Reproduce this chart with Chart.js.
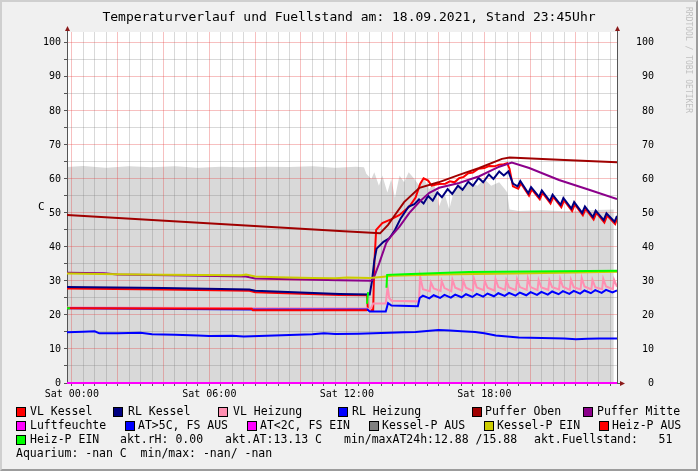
<!DOCTYPE html>
<html>
<head>
<meta charset="utf-8">
<script src="https://cdn.jsdelivr.net/npm/chart.js@4.4.0/dist/chart.umd.min.js"></script>
<style>
    body { margin: 0; background: #f0f0f0; }
    #frame {
        position: relative; width: 698px; height: 471px; overflow: hidden;
        background: #f0f0f0; color: #000;
        font-family: 'DejaVu Sans Mono', monospace;
    }
    #frame::after {
        content: ''; position: absolute; left: 0; top: 0; right: 0; bottom: 0;
        box-sizing: border-box; pointer-events: none;
        border-top: 2px solid #cfcfcf; border-left: 2px solid #cfcfcf;
        border-right: 2px solid #9c9c9c; border-bottom: 2px solid #9c9c9c;
    }
    #plotBg { position: absolute; left: 67px; top: 32px; width: 550px; height: 351px; background: #fff; }
    canvas { position: absolute; left: 0; top: 0; }
    .title { position: absolute; left: 0; width: 698px; top: 9px; text-align: center; font-size: 13px; line-height: 16px; white-space: pre; }
    .wm { position: absolute; left: 684px; top: 7px; font-size: 8px; line-height: 9px; color: #c0c0c0; writing-mode: vertical-rl; white-space: pre; }
    .ylab { position: absolute; left: 38px; top: 200px; font-size: 11px; line-height: 14px; }
    .t { position: absolute; font-size: 11.5px; line-height: 14px; white-space: pre; }
    .sq { position: absolute; width: 10px; height: 10px; box-sizing: border-box; border: 1px solid #000; }
</style>
</head>
<body>
<div id="frame">
    <div id="plotBg"></div>
    <canvas id="chart" width="698" height="471"></canvas>
    <div class="title">Temperaturverlauf und Fuellstand am: 18.09.2021, Stand 23:45Uhr</div>
    <div class="wm">RRDTOOL / TOBI OETIKER</div>
    <div class="ylab">C</div>

    <!-- legend row 1 -->
    <div class="sq" style="left:16px;top:407px;background:#ff0000"></div><div class="t" style="left:30px;top:404px">VL Kessel</div>
    <div class="sq" style="left:113px;top:407px;background:#000080"></div><div class="t" style="left:128px;top:404px">RL Kessel</div>
    <div class="sq" style="left:218px;top:407px;background:#ff8fb1"></div><div class="t" style="left:233px;top:404px">VL Heizung</div>
    <div class="sq" style="left:338px;top:407px;background:#0000ff"></div><div class="t" style="left:352px;top:404px">RL Heizung</div>
    <div class="sq" style="left:472px;top:407px;background:#a00000"></div><div class="t" style="left:485px;top:404px">Puffer Oben</div>
    <div class="sq" style="left:583px;top:407px;background:#8b008b"></div><div class="t" style="left:597px;top:404px">Puffer Mitte</div>
    <!-- legend row 2 -->
    <div class="sq" style="left:16px;top:421px;background:#ff00ff"></div><div class="t" style="left:30px;top:418px">Luftfeuchte</div>
    <div class="sq" style="left:125px;top:421px;background:#0000ff"></div><div class="t" style="left:138px;top:418px">AT&gt;5C, FS AUS</div>
    <div class="sq" style="left:247px;top:421px;background:#ff00ff"></div><div class="t" style="left:260px;top:418px">AT&lt;2C, FS EIN</div>
    <div class="sq" style="left:369px;top:421px;background:#808080"></div><div class="t" style="left:382px;top:418px">Kessel-P AUS</div>
    <div class="sq" style="left:484px;top:421px;background:#cccc00"></div><div class="t" style="left:497px;top:418px">Kessel-P EIN</div>
    <div class="sq" style="left:599px;top:421px;background:#ff0000"></div><div class="t" style="left:612px;top:418px">Heiz-P AUS</div>
    <!-- legend row 3 -->
    <div class="sq" style="left:16px;top:435px;background:#00ff00"></div><div class="t" style="left:30px;top:432px">Heiz-P EIN</div>
    <div class="t" style="left:120px;top:432px">akt.rH: 0.00</div>
    <div class="t" style="left:225px;top:432px">akt.AT:13.13 C</div>
    <div class="t" style="left:344px;top:432px">min/maxAT24h:12.88 /15.88</div>
    <div class="t" style="left:534px;top:432px">akt.Fuellstand:   51</div>
    <!-- legend row 4 -->
    <div class="t" style="left:16px;top:446px">Aquarium: -nan C  min/max: -nan/ -nan</div>
</div>

<script>
// axis ticks (hours since Sat 00:00)
const xTickHours = [0, 6, 12, 18];
const xTickLabels = ['Sat 00:00', 'Sat 06:00', 'Sat 12:00', 'Sat 18:00'];
const yTickValues = [0, 10, 20, 30, 40, 50, 60, 70, 80, 90, 100];

// VL Kessel
const vlKesselHours = [-0.21, 4.0, 7.75, 8.0, 11.68, 12.88, 12.92, 13.15, 13.2, 13.28, 13.55, 13.95, 14.3, 14.73, 15.0, 15.2, 15.35, 15.55, 15.7, 16.0, 16.3, 16.5, 16.7, 16.9, 17.1, 17.3, 17.5, 17.75, 18.0, 18.2, 18.45, 18.65, 18.85, 19.0, 19.1, 19.25, 19.48, 19.6, 19.95, 20.07, 20.42, 20.54, 20.89, 21.01, 21.36, 21.48, 21.83, 21.95, 22.3, 22.42, 22.77, 22.89, 23.24, 23.36, 23.71, 23.79];
const vlKesselValues = [27.8, 27.5, 27.1, 26.7, 25.9, 25.8, 21.5, 21.5, 35.0, 45.0, 47.0, 48.2, 49.4, 51.9, 54.5, 58.5, 60.2, 59.5, 58.0, 58.5, 58.6, 59.3, 59.0, 60.2, 60.6, 61.7, 61.9, 63.0, 63.2, 63.8, 63.7, 64.2, 64.3, 64.6, 63.0, 57.8, 57.1, 58.7, 55.1, 56.9, 54.0, 55.9, 52.8, 54.7, 51.7, 53.7, 50.6, 52.5, 49.3, 51.2, 48.1, 50.0, 47.2, 49.2, 46.7, 48.3];

// RL Kessel
const rlKesselHours = [-0.21, 4.0, 7.75, 8.0, 11.68, 13.0, 13.1, 13.2, 13.3, 13.6, 13.85, 14.1, 14.35, 14.7, 14.95, 15.15, 15.35, 15.55, 15.75, 15.95, 16.15, 16.4, 16.6, 16.85, 17.05, 17.3, 17.5, 17.75, 17.95, 18.2, 18.4, 18.65, 18.85, 19.05, 19.25, 19.45, 19.57, 19.92, 20.04, 20.39, 20.51, 20.86, 20.98, 21.33, 21.45, 21.8, 21.92, 22.27, 22.39, 22.74, 22.86, 23.21, 23.33, 23.68, 23.79];
const rlKesselValues = [28.2, 27.9, 27.5, 27.1, 26.2, 26.0, 30.0, 36.0, 39.5, 41.5, 42.5, 45.0, 48.4, 51.9, 52.6, 54.0, 52.8, 55.0, 53.6, 56.0, 54.6, 57.0, 55.6, 58.0, 56.8, 59.2, 58.0, 60.3, 59.0, 61.3, 60.0, 62.2, 61.0, 62.2, 58.6, 57.8, 59.4, 55.8, 57.6, 54.7, 56.6, 53.5, 55.4, 52.4, 54.4, 51.3, 53.2, 50.0, 51.9, 48.8, 50.7, 47.9, 49.9, 47.4, 49.1];

// VL Heizung
const vlHeizHours = [-0.21, 12.9, 13.0, 13.05, 13.15, 13.7, 13.78, 13.85, 13.95, 15.1, 15.15, 15.2, 15.32, 15.62, 15.67, 15.79, 16.09, 16.14, 16.26, 16.56, 16.61, 16.73, 17.03, 17.08, 17.2, 17.5, 17.55, 17.67, 17.97, 18.02, 18.14, 18.44, 18.49, 18.61, 18.91, 18.96, 19.08, 19.38, 19.43, 19.55, 19.85, 19.9, 20.02, 20.32, 20.37, 20.49, 20.79, 20.84, 20.96, 21.26, 21.31, 21.43, 21.73, 21.78, 21.9, 22.2, 22.25, 22.37, 22.67, 22.72, 22.84, 23.14, 23.19, 23.31, 23.61, 23.66, 23.79];
const vlHeizValues = [22.2, 21.9, 21.5, 22.0, 23.4, 23.4, 28.3, 25.0, 24.2, 24.0, 24.2, 31.3, 27.6, 27.0, 29.6, 27.8, 27.1, 30.0, 27.9, 27.0, 30.4, 28.0, 27.2, 30.1, 28.0, 27.1, 30.7, 28.1, 27.3, 30.0, 28.0, 27.2, 30.6, 28.2, 27.4, 30.2, 28.1, 27.3, 30.5, 28.2, 27.4, 30.8, 28.2, 27.3, 30.3, 28.1, 27.4, 30.2, 28.2, 27.5, 30.7, 28.3, 27.4, 30.4, 28.2, 27.5, 30.9, 28.4, 27.5, 30.3, 28.2, 27.6, 30.6, 28.4, 27.6, 30.4, 28.3];

// RL Heizung
const rlHeizHours = [-0.21, 7.9, 12.9, 13.0, 13.7, 13.8, 13.95, 15.1, 15.18, 15.32, 15.6, 15.79, 16.07, 16.26, 16.54, 16.73, 17.01, 17.2, 17.48, 17.67, 17.95, 18.14, 18.42, 18.61, 18.89, 19.08, 19.36, 19.55, 19.83, 20.02, 20.3, 20.49, 20.77, 20.96, 21.24, 21.43, 21.71, 21.9, 22.18, 22.37, 22.65, 22.84, 23.12, 23.31, 23.59, 23.79];
const rlHeizValues = [22.0, 21.6, 21.6, 21.0, 21.0, 23.5, 22.8, 22.6, 25.0, 25.7, 24.9, 25.8, 25.0, 25.9, 25.1, 26.0, 25.2, 26.1, 25.3, 26.2, 25.4, 26.3, 25.5, 26.4, 25.6, 26.5, 25.7, 26.6, 25.8, 26.7, 25.9, 26.8, 26.0, 26.9, 26.1, 27.0, 26.2, 27.1, 26.3, 27.2, 26.4, 27.3, 26.5, 27.4, 26.6, 27.2];

// Puffer Oben / Mitte
const pufferObenHours = [-0.21, 11.68, 13.45, 13.8, 14.1, 14.5, 15.17, 16.0, 16.9, 17.78, 18.77, 19.1, 21.5, 23.79];
const pufferObenValues = [49.4, 44.7, 44.0, 46.5, 49.4, 53.2, 57.4, 59.0, 61.2, 63.2, 65.9, 66.3, 65.6, 64.9];
const pufferMitteHours = [-0.21, 1.4, 2.0, 5.0, 7.6, 8.0, 9.5, 11.7, 13.05, 13.15, 13.42, 13.72, 13.86, 14.3, 14.73, 15.17, 15.6, 16.03, 16.9, 17.78, 18.65, 19.2, 19.96, 21.26, 22.57, 23.79];
const pufferMitteValues = [32.4, 32.3, 31.9, 31.6, 31.3, 30.7, 30.5, 30.2, 30.1, 30.4, 35.3, 41.2, 42.6, 46.0, 50.0, 53.3, 55.9, 57.4, 58.8, 60.8, 63.6, 64.8, 63.2, 59.7, 56.8, 54.1];

// Luftfeuchte
const luftHours = [-0.21, 23.79];
const luftValues = [0, 0];

// Aussentemperatur (AT>5C, FS AUS)
const atHours = [-0.21, 0.5, 1.0, 1.2, 2.0, 3.0, 3.5, 4.5, 5.5, 6.0, 7.0, 7.5, 8.5, 9.5, 10.5, 11.0, 11.5, 12.5, 13.5, 14.5, 15.0, 15.5, 16.0, 16.5, 17.0, 17.6, 18.0, 18.5, 19.5, 20.5, 21.5, 22.0, 22.5, 23.0, 23.79];
const atValues = [14.9, 15.1, 15.2, 14.6, 14.6, 14.8, 14.3, 14.2, 14.0, 13.8, 13.9, 13.7, 13.9, 14.1, 14.3, 14.6, 14.4, 14.5, 14.7, 14.9, 15.0, 15.3, 15.6, 15.4, 15.2, 15.0, 14.6, 14.0, 13.4, 13.2, 13.1, 12.9, 13.0, 13.1, 13.1];

// Kessel-P AUS (grey area)
const kesselAusHours = [-0.21, 0.5, 1.5, 2.5, 3.5, 4.5, 5.5, 6.5, 7.5, 8.5, 9.5, 10.5, 11.5, 12.4, 12.75, 12.85, 13.07, 13.2, 13.4, 13.55, 13.77, 13.94, 14.1, 14.3, 14.5, 14.7, 14.95, 15.16, 15.38, 15.6, 15.8, 16.03, 16.25, 16.47, 16.69, 16.9, 17.1, 17.34, 17.7, 18.0, 18.3, 18.65, 18.9, 19.0, 19.1, 19.5, 20.5, 21.5, 22.5, 23.65];
const kesselAusValues = [63.5, 63.8, 63.3, 63.7, 63.4, 63.7, 63.3, 63.6, 63.4, 63.6, 63.5, 63.7, 63.3, 63.6, 63.4, 61.5, 60.0, 62.0, 58.0, 61.0, 56.0, 60.0, 54.5, 61.0, 59.0, 62.0, 60.0, 58.0, 60.0, 57.0, 59.0, 52.0, 56.0, 51.0, 57.0, 59.0, 57.0, 59.0, 58.0, 60.0, 58.0, 59.0, 57.0, 56.0, 51.0, 50.6, 50.8, 50.5, 50.8, 51.0];

// Kessel-P EIN
const kesselEinHours = [-0.21, 2.0, 4.0, 7.4, 7.6, 8.0, 9.0, 10.5, 11.5, 12.0, 13.0, 13.5, 14.0, 16.0, 20.0, 23.79];
const kesselEinValues = [32.2, 32.0, 31.8, 31.7, 31.9, 31.3, 31.1, 30.9, 30.8, 31.0, 30.9, 31.2, 31.5, 31.9, 32.3, 32.7];

// Heiz-P AUS / EIN
const heizAusHours = [-0.21, 4.0, 7.85, 7.9, 12.88];
const heizAusValues = [22.0, 21.9, 21.8, 21.4, 21.4];
const heizEinHours = [-0.21, -0.08, -0.07, 12.88, 12.93, 12.94, 13.73, 13.76, 14.5, 17.34, 20.0, 23.79];
const heizEinValues = [22.0, 22.0, null, 23.3, 26.7, null, 28.0, 31.8, 32.0, 32.6, 32.8, 33.0];

const minorGrid = 'rgba(120, 120, 120, 0.28)';
const majorGrid = 'rgba(230, 60, 60, 0.32)';
const axisColor = '#555555';
const monoFont = { family: 'DejaVu Sans Mono', size: 10 };

function toPoints(hours, values) {
    return hours.map((h, i) => ({ x: h, y: values[i] }));
}

function lineSet(label, hours, values, color, order) {
    return {
        label,
        data: toPoints(hours, values),
        borderColor: color,
        backgroundColor: color,
        borderWidth: 2,
        pointRadius: 0,
        tension: 0,
        fill: false,
        order
    };
}

// grid every 30 min, red every 2 h
const xGridHours = [];
for (let i = 0; i <= 47; i++) xGridHours.push(i * 0.5);
const yGridValues = [];
for (let v = 0; v <= 100; v += 5) yGridValues.push(v);

// small arrows at the axis ends
const axisArrows = {
    id: 'axisArrows',
    afterDraw(chart) {
        const { ctx, chartArea: a } = chart;
        ctx.save();
        ctx.strokeStyle = axisColor;
        ctx.lineWidth = 1;
        ctx.beginPath();
        ctx.moveTo(a.left + 0.5, a.top); ctx.lineTo(a.left + 0.5, a.top - 2);
        ctx.moveTo(a.right + 0.5, a.top); ctx.lineTo(a.right + 0.5, a.top - 2);
        ctx.moveTo(a.right, a.bottom + 0.5); ctx.lineTo(a.right + 3, a.bottom + 0.5);
        ctx.stroke();
        ctx.fillStyle = '#8b1a1a';
        [a.left + 0.5, a.right + 0.5].forEach(x => {
            ctx.beginPath();
            ctx.moveTo(x, a.top - 6);
            ctx.lineTo(x - 2.5, a.top - 1);
            ctx.lineTo(x + 2.5, a.top - 1);
            ctx.closePath();
            ctx.fill();
        });
        ctx.beginPath();
        ctx.moveTo(a.right + 8, a.bottom + 0.5);
        ctx.lineTo(a.right + 3, a.bottom - 2);
        ctx.lineTo(a.right + 3, a.bottom + 3);
        ctx.closePath();
        ctx.fill();
        ctx.restore();
    }
};

new Chart(document.getElementById('chart'), {
    type: 'line',
    data: {
        datasets: [
            lineSet('Heiz-P EIN', heizEinHours, heizEinValues, '#00ff00', 1),
            lineSet('Heiz-P AUS', heizAusHours, heizAusValues, '#ff0000', 2),
            lineSet('Kessel-P EIN', kesselEinHours, kesselEinValues, '#cccc00', 3),
            lineSet('AT>5C, FS AUS', atHours, atValues, '#0000ff', 4),
            Object.assign(lineSet('Luftfeuchte', luftHours, luftValues, '#ff00ff', 5), { clip: 4 }),
            lineSet('Puffer Mitte', pufferMitteHours, pufferMitteValues, '#8b008b', 6),
            lineSet('Puffer Oben', pufferObenHours, pufferObenValues, '#a00000', 7),
            lineSet('RL Heizung', rlHeizHours, rlHeizValues, '#0000ff', 8),
            lineSet('VL Heizung', vlHeizHours, vlHeizValues, '#ff8fb1', 9),
            lineSet('RL Kessel', rlKesselHours, rlKesselValues, '#000080', 10),
            lineSet('VL Kessel', vlKesselHours, vlKesselValues, '#ff0000', 11),
            {
                label: 'Kessel-P AUS',
                data: toPoints(kesselAusHours, kesselAusValues),
                borderColor: 'rgba(0,0,0,0)',
                borderWidth: 0,
                backgroundColor: '#d9d9d9',
                pointRadius: 0,
                tension: 0,
                fill: 'origin',
                order: 99
            }
        ]
    },
    options: {
        responsive: false,
        animation: false,
        events: [],
        layout: { padding: { left: 0, right: 44, top: 32, bottom: 68 } },
        plugins: {
            legend: { display: false },
            title: { display: false },
            tooltip: { enabled: false },
            filler: { drawTime: 'beforeDraw' }
        },
        scales: {
            x: {
                type: 'linear',
                min: -0.21,
                max: 23.79,
                afterBuildTicks: scale => { scale.ticks = xGridHours.map(v => ({ value: v })); },
                afterFit: scale => { scale.height = 20; },
                grid: {
                    color: c => (c.tick && c.tick.value % 2 === 0 ? majorGrid : minorGrid),
                    tickColor: axisColor,
                    tickLength: 3
                },
                border: { color: axisColor },
                ticks: {
                    autoSkip: false,
                    maxRotation: 0,
                    padding: 2,
                    color: '#000',
                    font: monoFont,
                    callback: value => {
                        const i = xTickHours.indexOf(value);
                        return i >= 0 ? xTickLabels[i] : '';
                    }
                }
            },
            y: {
                type: 'linear',
                position: 'left',
                min: 0,
                max: 103.2,
                afterBuildTicks: scale => { scale.ticks = yGridValues.map(v => ({ value: v })); },
                afterFit: scale => { scale.width = 67; },
                grid: {
                    color: c => (c.tick && c.tick.value % 10 === 0 ? majorGrid : minorGrid),
                    tickColor: axisColor,
                    tickLength: 3
                },
                border: { color: axisColor },
                ticks: {
                    padding: 3,
                    color: '#000',
                    font: monoFont,
                    callback: value => (yTickValues.includes(value) ? String(value) : '')
                }
            },
            y2: {
                type: 'linear',
                position: 'right',
                min: 0,
                max: 103.2,
                afterBuildTicks: scale => { scale.ticks = yTickValues.map(v => ({ value: v })); },
                afterFit: scale => { scale.width = 37; },
                grid: { display: false },
                border: { color: axisColor },
                ticks: {
                    crossAlign: 'far',
                    color: '#000',
                    font: monoFont,
                    callback: value => String(value)
                }
            }
        }
    },
    plugins: [axisArrows]
});
</script>
</body>
</html>
